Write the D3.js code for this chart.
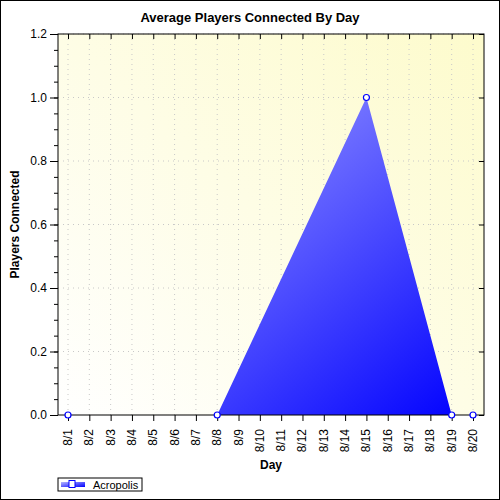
<!DOCTYPE html>
<html><head><meta charset="utf-8">
<script src="https://cdn.jsdelivr.net/npm/d3@7"></script>
<style>body{margin:0}svg{font-family:Arial,"Liberation Sans",sans-serif}</style>
</head><body><div id="figure"></div>
<script>
const days = ['8/1','8/2','8/3','8/4','8/5','8/6','8/7','8/8','8/9','8/10','8/11','8/12','8/13','8/14','8/15','8/16','8/17','8/18','8/19','8/20'];
const ptDays = ['8/1','8/8','8/15','8/19','8/20'];
const ptVals = [0, 0, 1, 0, 0];
const yTicks = [0, 0.2, 0.4, 0.6, 0.8, 1.0, 1.2];

const width = 500, height = 500;
const m = {l: 58, r: 16, t: 34, b: 85};

var svg = d3.select('#figure').append('svg').attr('width', width).attr('height', height);
var defs = svg.append('defs');
var bg = defs.append('linearGradient').attr('id','bg').attr('x1','0').attr('y1','1').attr('x2','1').attr('y2','0');
bg.append('stop').attr('offset','0').attr('stop-color','#ffffff');
bg.append('stop').attr('offset','1').attr('stop-color','#fdfbcc');
var ag = defs.append('linearGradient').attr('id','ag').attr('x1','0').attr('y1','0').attr('x2','1').attr('y2','1');
ag.append('stop').attr('offset','0').attr('stop-color','#b4b4ff');
ag.append('stop').attr('offset','1').attr('stop-color','#0000ff');

svg.append('rect').attr('x',0.5).attr('y',0.5).attr('width',width-1).attr('height',height-1)
    .attr('fill','#fff').attr('stroke','#000');

var x = d3.scalePoint().domain(days).range([m.l + 10, width - m.r - 11]);
var y = d3.scaleLinear().domain([0, 1.2]).range([height - m.b, m.t]);

svg.append('rect').attr('x', m.l).attr('y', m.t).attr('width', width - m.l - m.r).attr('height', height - m.t - m.b).attr('fill','url(#bg)');

var grid = svg.append('g').attr('stroke','#c8c8c8').attr('stroke-dasharray','1,4');
grid.selectAll('.vx').data(days).enter().append('line')
    .attr('x1', d => x(d)).attr('x2', d => x(d)).attr('y1', m.t).attr('y2', height - m.b);
grid.selectAll('.hy').data(yTicks.slice(1)).enter().append('line')
    .attr('x1', m.l).attr('x2', width - m.r).attr('y1', d => y(d)).attr('y2', d => y(d));

var pts = ptDays.map((d, i) => ({d: d, v: ptVals[i]}));
svg.append('path').datum(pts)
    .attr('d', d3.area().x(p => x(p.d)).y0(y(0)).y1(p => y(p.v)))
    .attr('fill','url(#ag)');

svg.append('rect').attr('x', m.l).attr('y', m.t).attr('width', width - m.l - m.r).attr('height', height - m.t - m.b)
    .attr('fill','none').attr('stroke','#000');

var minor = d3.range(0, 1.2001, 0.05);
svg.append('g').attr('transform','translate(' + m.l + ',0)')
    .call(d3.axisLeft(y).tickValues(minor).tickSize(4).tickFormat(''))
    .call(g => g.select('.domain').remove());
svg.append('g').attr('transform','translate(' + m.l + ',0)')
    .call(d3.axisLeft(y).tickValues(yTicks).tickSize(8).tickFormat(d3.format('.1f')))
    .call(g => g.select('.domain').remove())
    .call(g => g.selectAll('text').attr('font-size', 12).attr('fill','#000'));
svg.append('g').attr('transform','translate(' + (width - m.r) + ',0)')
    .call(d3.axisLeft(y).tickValues(yTicks).tickSize(5).tickFormat(''))
    .call(g => g.select('.domain').remove());

svg.append('g').attr('transform','translate(0,' + (height - m.b) + ')')
    .call(d3.axisBottom(x).tickSize(6).tickFormat(''))
    .call(g => g.select('.domain').remove());
svg.append('g').attr('transform','translate(0,' + m.t + ')')
    .call(d3.axisBottom(x).tickSize(5).tickFormat(''))
    .call(g => g.select('.domain').remove());
svg.selectAll('.tick line').attr('stroke','#000');

svg.append('g').selectAll('text').data(days).enter().append('text')
    .attr('transform', d => 'translate(' + (x(d) + 4) + ',' + (height - m.b + 14) + ') rotate(-90)')
    .attr('text-anchor','end').attr('font-size', 12).text(d => d);

svg.selectAll('.mk').data(pts).enter().append('circle')
    .attr('cx', p => x(p.d)).attr('cy', p => y(p.v)).attr('r', 3)
    .attr('fill','#fff').attr('stroke','#0000ff').attr('stroke-width', 1.2);

svg.append('text').attr('x', width/2).attr('y', 22).attr('text-anchor','middle')
    .attr('font-size', 13).attr('font-weight','bold').text('Average Players Connected By Day');
svg.append('text').attr('x', (m.l + width - m.r)/2).attr('y', 469).attr('text-anchor','middle')
    .attr('font-size', 12).attr('font-weight','bold').text('Day');
svg.append('text').attr('transform','translate(19,' + ((m.t + height - m.b)/2) + ') rotate(-90)')
    .attr('text-anchor','middle').attr('font-size', 12).attr('font-weight','bold').text('Players Connected');

var lg = svg.append('g').attr('transform','translate(58,478)');
lg.append('rect').attr('width', 84).attr('height', 13).attr('fill','#fff').attr('stroke','#000');
lg.append('rect').attr('x', 3).attr('y', 4).attr('width', 24).attr('height', 5).attr('fill','url(#ag)');
lg.append('rect').attr('x', 11).attr('y', 2.5).attr('width', 6).attr('height', 7).attr('fill','#fff').attr('stroke','#0000ff');
lg.append('text').attr('x', 35).attr('y', 10.5).attr('font-size', 11).text('Acropolis');
</script></body></html>
